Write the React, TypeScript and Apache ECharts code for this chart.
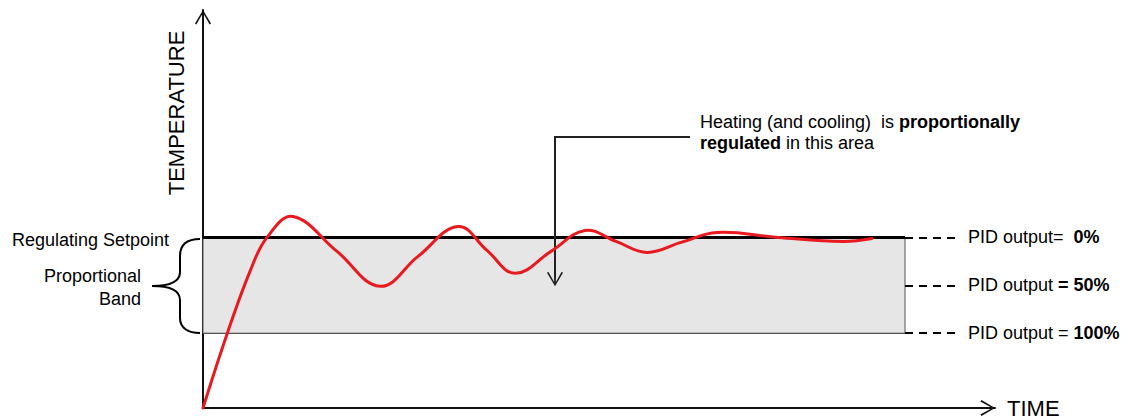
import React, { useEffect, useRef } from "react";
import * as echarts from "echarts";

// ---- data (units: time / temperature, arbitrary scale) ----
const TIME_S = [0, 24, 47, 64, 90, 134, 177, 215, 255, 284, 312, 348, 382, 413, 444, 478, 514, 575, 640, 669];
const TEMP = [0, 74, 137, 171, 192, 157, 122, 152, 182, 158, 135, 157, 178, 167, 156, 166, 176, 171, 167, 170];

const SETPOINT = 171;
const BAND_LOW = 75;
const BAND_END = 702;
const DASH_END = 757;

const PID_LEVELS = [171, 123, 75];
const PID_LABELS = ["PID output=  {bold|0%}", "PID output {bold|= 50%}", "PID output = {bold|100%}"];

const ANNOT_X = 352;
const ANNOT_TOP = 272;
const ANNOT_TIP = 122;
const ANNOT_ELBOW_END = 487;

const X_MAX = 792;
const Y_MAX = 399;

// ---- layout ----
const W = 1124;
const H = 419;
const GRID_LEFT = 203;
const GRID_TOP = 10;
const GRID_RIGHT = 129;
const GRID_BOTTOM = 10;
const GRID_H = H - GRID_TOP - GRID_BOTTOM;

const FONT = "'Liberation Sans', Arial, Helvetica, sans-serif";
const ARROW_W = 16;
const ARROW_H = 15;
const CHEVRON =
  "path://M0,13.5 L8,0 L16,13.5 L14.6,14.6 L8,2.8 L1.4,14.6 Z M7.1,1.5 L8.9,1.5 L8.9,15 L7.1,15 Z";

const py = (v: number) => GRID_TOP + ((Y_MAX - v) / Y_MAX) * GRID_H;

export default function App() {
  const ref = useRef<HTMLDivElement>(null);

  useEffect(() => {
    if (!ref.current) return;
    const yTop = py(SETPOINT);
    const yBot = py(BAND_LOW);
    const yMid = (yTop + yBot) / 2;
    const xr = GRID_LEFT - 3;
    const xv = GRID_LEFT - 23;
    const xt = GRID_LEFT - 51;
    const braceD =
      `M${xr},${yTop + 1} C${xr - 12},${yTop + 1} ${xv},${yTop + 6} ${xv},${yTop + 18} ` +
      `L${xv},${yMid - 14} C${xv},${yMid - 4} ${xt + 16},${yMid} ${xt},${yMid} ` +
      `C${xt + 16},${yMid} ${xv},${yMid + 4} ${xv},${yMid + 14} ` +
      `L${xv},${yBot - 16} C${xv},${yBot - 6} ${xr - 12},${yBot - 1} ${xr},${yBot - 1}`;
    echarts.graphic.registerShape("brace", echarts.graphic.extendPath(braceD, {}) as any);

    const chart = echarts.init(ref.current, null, { renderer: "svg" });

    const pidLines = PID_LEVELS.map((v, i) => {
      const label = {
        show: true,
        position: "end",
        distance: 8,
        formatter: () => PID_LABELS[i],
        color: "#000",
        fontSize: 18,
        fontFamily: FONT,
        rich: { bold: { fontWeight: "bold", fontSize: 18, fontFamily: FONT, color: "#000" } },
      };
      return [
        { coord: [BAND_END, v], label },
        { coord: [DASH_END, v], label },
      ];
    });

    const curveData = TIME_S.map((t, i) => [t, TEMP[i]]);

    chart.setOption({
      animation: false,
      grid: { left: GRID_LEFT, top: GRID_TOP, right: GRID_RIGHT, bottom: GRID_BOTTOM },
      xAxis: {
        type: "value",
        min: 0,
        max: X_MAX,
        name: "TIME",
        nameLocation: "end",
        nameGap: 12,
        nameTextStyle: { fontSize: 22, color: "#000", fontFamily: FONT, verticalAlign: "middle" },
        axisLine: {
          show: true,
          lineStyle: { color: "#111", width: 2 },
          symbol: ["none", CHEVRON],
          symbolSize: [ARROW_W, ARROW_H],
          symbolOffset: [0, -ARROW_H / 2],
        },
        axisTick: { show: false },
        axisLabel: { show: false },
        splitLine: { show: false },
      },
      yAxis: {
        type: "value",
        min: 0,
        max: Y_MAX,
        axisLine: {
          show: true,
          lineStyle: { color: "#111", width: 2 },
          symbol: ["none", CHEVRON],
          symbolSize: [ARROW_W + 2, ARROW_H],
          symbolOffset: [0, -ARROW_H / 2],
        },
        axisTick: { show: false },
        axisLabel: { show: false },
        splitLine: { show: false },
      },
      graphic: [
        { type: "brace", x: 0, y: 0, silent: true, style: { stroke: "#000", lineWidth: 2, fill: "none" } },
        {
          type: "text",
          x: 176,
          y: 113,
          rotation: Math.PI / 2,
          style: { text: "TEMPERATURE", fontSize: 22, fontFamily: FONT, fill: "#000", textAlign: "center", textVerticalAlign: "middle" },
        },
        {
          type: "text",
          x: 12,
          y: 240,
          style: { text: "Regulating Setpoint", fontSize: 18, fontFamily: FONT, fill: "#000", textAlign: "left", textVerticalAlign: "middle" },
        },
        {
          type: "text",
          x: 141,
          y: 264,
          style: {
            text: "Proportional\nBand",
            fontSize: 18,
            lineHeight: 23,
            fontFamily: FONT,
            fill: "#000",
            textAlign: "right",
            textVerticalAlign: "top",
          },
        },
        {
          type: "text",
          x: 700,
          y: 111,
          style: {
            text: "Heating (and cooling)  is {bold|proportionally}\n{bold|regulated} in this area",
            fontSize: 18,
            lineHeight: 21,
            fontFamily: FONT,
            fill: "#000",
            textAlign: "left",
            textVerticalAlign: "top",
            rich: { bold: { fontWeight: "bold", fontSize: 18, lineHeight: 21, fontFamily: FONT, fill: "#000" } },
          },
        },
      ],
      series: [
        {
          name: "band",
          type: "line",
          data: [],
          z: 1,
          silent: true,
          markArea: {
            silent: true,
            itemStyle: { color: "#e6e6e6", borderColor: "#555", borderWidth: 1 },
            data: [[{ coord: [0, BAND_LOW] }, { coord: [BAND_END, SETPOINT] }]],
          },
          markLine: {
            silent: true,
            symbol: ["none", "none"],
            label: { show: false },
            data: [
              [
                { coord: [0, SETPOINT], lineStyle: { color: "#000", width: 3, type: "solid" } },
                { coord: [BAND_END, SETPOINT], lineStyle: { color: "#000", width: 3, type: "solid" } },
              ],
              [
                { coord: [0, BAND_LOW], lineStyle: { color: "#555", width: 1.2, type: "solid" } },
                { coord: [BAND_END, BAND_LOW], lineStyle: { color: "#555", width: 1.2, type: "solid" } },
              ],
            ],
          },
        },
        {
          name: "pid",
          type: "line",
          data: [],
          z: 2,
          silent: true,
          markLine: {
            silent: true,
            symbol: ["none", "none"],
            lineStyle: { color: "#000", width: 2, type: [8, 6] },
            data: pidLines,
          },
        },
        {
          name: "annotation",
          type: "line",
          data: [],
          z: 2,
          silent: true,
          markLine: {
            silent: true,
            symbolSize: [ARROW_W, ARROW_H],
            label: { show: false },
            lineStyle: { color: "#222", width: 2, type: "solid" },
            data: [
              [
                { coord: [ANNOT_X, ANNOT_TOP], symbol: "none" },
                { coord: [ANNOT_X, ANNOT_TIP + ARROW_H / 2], symbol: CHEVRON },
              ],
              [
                { coord: [ANNOT_X - 1, ANNOT_TOP], symbol: "none" },
                { coord: [ANNOT_ELBOW_END, ANNOT_TOP], symbol: "none" },
              ],
            ],
          },
        },
        {
          name: "Temperature",
          type: "custom",
          z: 5,
          silent: true,
          clip: false,
          data: curveData,
          encode: { x: 0, y: 1 },
          renderItem: (params: any, api: any) => {
            if (params.dataIndex !== 0) return null;
            const pts = curveData.map((d) => api.coord(d));
            return {
              type: "polyline",
              shape: { points: pts, smooth: 0.4 },
              style: { stroke: "#e8191f", lineWidth: 3, fill: null, lineJoin: "round", lineCap: "round" },
            };
          },
        },
      ],
    });

    return () => chart.dispose();
  }, []);

  return <div ref={ref} style={{ position: "absolute", left: 0, top: 0, width: W, height: H }} />;
}
